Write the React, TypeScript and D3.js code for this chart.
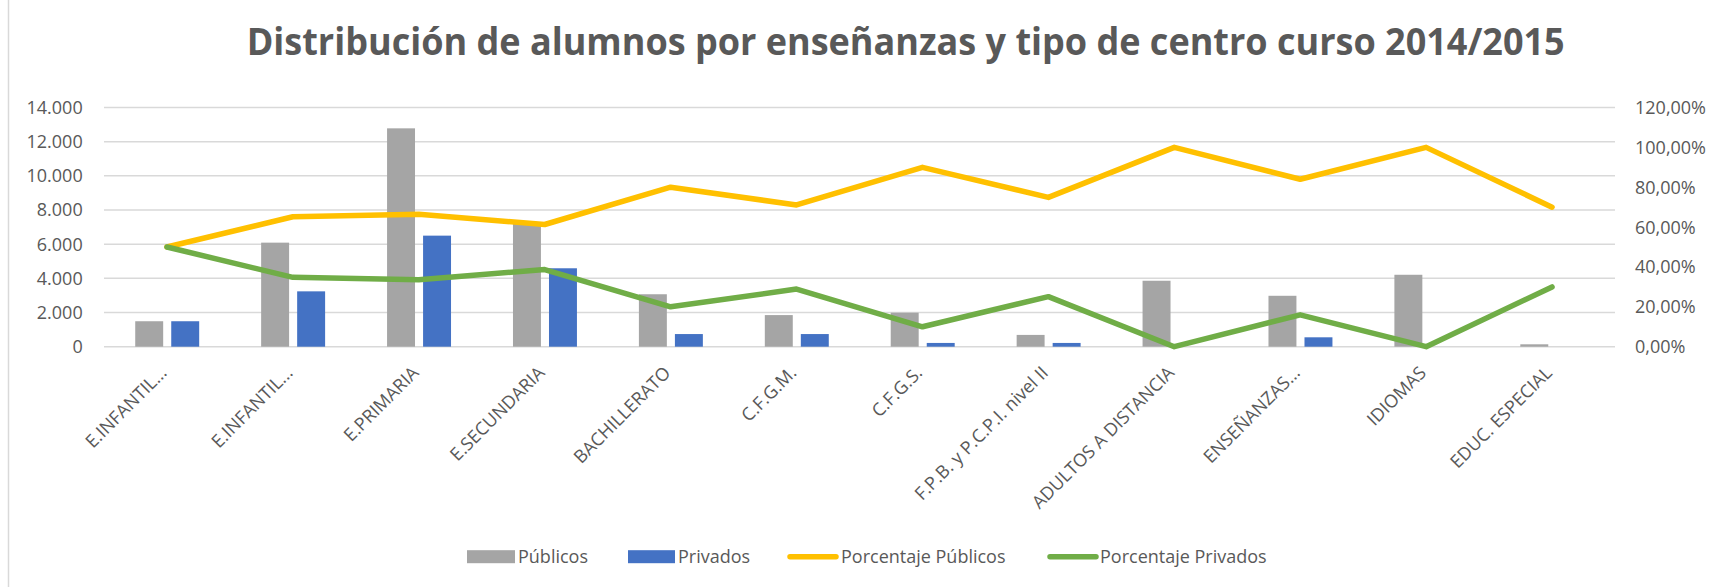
import React from "react";
import * as d3 from "d3";

const categories = [
  "E.INFANTIL...",
  "E.INFANTIL...",
  "E.PRIMARIA",
  "E.SECUNDARIA",
  "BACHILLERATO",
  "C.F.G.M.",
  "C.F.G.S.",
  "F.P.B. y P.C.P.I. nivel II",
  "ADULTOS A DISTANCIA",
  "ENSEÑANZAS...",
  "IDIOMAS",
  "EDUC. ESPECIAL",
];
const publicos = [1490, 6090, 12780, 7200, 3070, 1850, 1990, 690, 3860, 2980, 4210, 140];
const privados = [1490, 3240, 6500, 4590, 740, 740, 220, 220, 0, 550, 0, 0];
const pctPublicos = [50, 65.2, 66.4, 61.3, 80, 71.1, 90, 74.9, 100, 84, 100, 70];
const pctPrivados = [50, 34.8, 33.6, 38.7, 20, 28.9, 10, 25.1, 0, 16, 0, 30];
const leftTicks = [0, 2000, 4000, 6000, 8000, 10000, 12000, 14000];
const rightTicks = [0, 20, 40, 60, 80, 100, 120];
const title = "Distribución de alumnos por enseñanzas y tipo de centro curso 2014/2015";
const legendItems = ["Públicos", "Privados", "Porcentaje Públicos", "Porcentaje Privados"];

const W = 1717;
const H = 587;
const plot = { left: 104, right: 1615, top: 107.5, bottom: 346.7 };
const TEXT = "#595959";
const GRID = "#D9D9D9";
const C_PUB = "#A5A5A5";
const C_PRIV = "#4472C4";
const C_PPUB = "#FFC000";
const C_PPRIV = "#70AD47";
const FONT = "'Open Sans', 'Noto Sans', sans-serif";

const es = d3.formatLocale({ decimal: ",", thousands: ".", grouping: [3], currency: ["", "€"] });
const fmtLeft = es.format(",");
const fmtRight = es.format(",.2f");

export default function App() {
  const idx = categories.map((_, i) => i);
  const x = d3.scaleBand<number>().domain(idx).range([plot.left, plot.right]).padding(0);
  const yL = d3.scaleLinear().domain([0, 14000]).range([plot.bottom, plot.top]);
  const yR = d3.scaleLinear().domain([0, 120]).range([plot.bottom, plot.top]);
  const bw = x.bandwidth();
  const cx = (i: number) => (x(i) as number) + bw / 2;
  const barW = bw * 0.222;
  const gapHalf = bw * 0.03;

  const line = d3
    .line<number>()
    .x((_, i) => cx(i))
    .y((d) => yR(d));

  const legendY = 556.7;
  const legendPos = [
    { sx: 467, sw: 48, tx: 518, type: "rect", color: C_PUB },
    { sx: 628, sw: 47, tx: 678, type: "rect", color: C_PRIV },
    { sx: 790, sw: 46, tx: 841, type: "line", color: C_PPUB },
    { sx: 1050, sw: 46, tx: 1100, type: "line", color: C_PPRIV },
  ];

  return (
    <svg
      width={W}
      height={H}
      style={{ position: "absolute", left: 0, top: 0, background: "#fff" }}
      fontFamily={FONT}
    >
      <rect x={0} y={0} width={W} height={H} fill="#fff" />
      <line x1={8.5} x2={8.5} y1={0} y2={H} stroke={GRID} strokeWidth={1.5} />

      <text
        x={246.7}
        y={55}
        fontSize={38}
        fontWeight={700}
        fill={TEXT}
        textLength={1318}
        lengthAdjust="spacingAndGlyphs"
      >
        {title}
      </text>

      {leftTicks.map((t) => (
        <line
          key={"g" + t}
          x1={plot.left}
          x2={plot.right}
          y1={yL(t)}
          y2={yL(t)}
          stroke={GRID}
          strokeWidth={1.5}
        />
      ))}

      {leftTicks.map((t) => (
        <text key={"l" + t} x={82.7} y={yL(t)} dy="0.36em" textAnchor="end" fontSize={18} fill={TEXT}>
          {fmtLeft(t)}
        </text>
      ))}
      {rightTicks.map((t) => (
        <text key={"r" + t} x={1635} y={yR(t)} dy="0.36em" textAnchor="start" fontSize={18} fill={TEXT}>
          {fmtRight(t) + "%"}
        </text>
      ))}

      {publicos.map((v, i) => (
        <rect
          key={"pub" + i}
          x={cx(i) - gapHalf - barW}
          y={yL(v)}
          width={barW}
          height={yL(0) - yL(v)}
          fill={C_PUB}
        />
      ))}
      {privados.map((v, i) =>
        v > 0 ? (
          <rect
            key={"priv" + i}
            x={cx(i) + gapHalf + bw * 0.004}
            y={yL(v)}
            width={barW}
            height={yL(0) - yL(v)}
            fill={C_PRIV}
          />
        ) : null
      )}

      <path
        d={line(pctPublicos) || ""}
        fill="none"
        stroke={C_PPUB}
        strokeWidth={5.5}
        strokeLinejoin="round"
        strokeLinecap="round"
      />
      <path
        d={line(pctPrivados) || ""}
        fill="none"
        stroke={C_PPRIV}
        strokeWidth={5.5}
        strokeLinejoin="round"
        strokeLinecap="round"
      />

      {categories.map((c, i) => (
        <text
          key={"x" + i}
          transform={`translate(${cx(i) + 1},${374}) rotate(-45)`}
          textAnchor="end"
          fontSize={18}
          fill={TEXT}
        >
          {c}
        </text>
      ))}

      {legendItems.map((name, i) => {
        const p = legendPos[i];
        return (
          <g key={"leg" + i}>
            {p.type === "rect" ? (
              <rect x={p.sx} y={legendY - 6.5} width={p.sw} height={13} fill={p.color} />
            ) : (
              <line
                x1={p.sx}
                x2={p.sx + p.sw}
                y1={legendY}
                y2={legendY}
                stroke={p.color}
                strokeWidth={5.5}
                strokeLinecap="round"
              />
            )}
            <text x={p.tx} y={legendY} dy="0.36em" fontSize={18} fill={TEXT}>
              {name}
            </text>
          </g>
        );
      })}
    </svg>
  );
}
